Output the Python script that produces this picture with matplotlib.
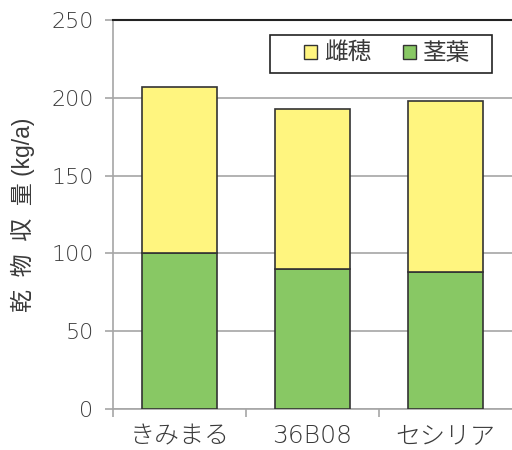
import matplotlib.pyplot as plt
import numpy as np
from matplotlib.patches import Patch, Rectangle

plt.rcParams['font.family'] = ['DejaVu Sans', 'Noto Sans CJK JP']

# data
varieties = ['きみまる', '36B08', 'セシリア']
stem_leaf = [100, 90, 88]      # 茎葉
ear = [107, 103, 110]          # 雌穂
yticks = [0, 50, 100, 150, 200, 250]

green = '#88c864'
yellow = '#fff57f'
edge = '#333333'
grey = '#a6a6a6'
text_c = '#3a3a3a'
jp = ['Liberation Sans', 'Noto Sans CJK JP']

fig = plt.figure(figsize=(5.12, 4.5), dpi=100)
ax = fig.add_axes([113 / 512, 41 / 450, 1 - 113 / 512, 389 / 450])

x = np.arange(len(varieties))
ax.bar(x, stem_leaf, width=0.56, color=green, edgecolor=edge, linewidth=1.2, zorder=3)
ax.bar(x, ear, width=0.56, bottom=stem_leaf, color=yellow, edgecolor=edge, linewidth=1.2, zorder=3)

ax.set_xlim(-0.5, 2.5)
ax.set_ylim(0, 250)
ax.set_yticks(yticks)
ax.set_yticklabels([str(v) for v in yticks], fontsize=16, color=text_c, fontweight='light')

# category labels centred, ticks between categories
ax.set_xticks(x)
ax.set_xticklabels(varieties, fontsize=18, color=text_c, fontweight='light')
ax.tick_params(axis='x', length=0, pad=11)
ax.set_xticks([-0.5, 0.5, 1.5], minor=True)
ax.tick_params(axis='x', which='minor', length=6, color=grey, width=1.2)
ax.tick_params(axis='y', length=6, color=grey, width=1.2, pad=8)

ax.yaxis.grid(True, color=grey, linewidth=1.2, zorder=0)
for s in ['left', 'bottom']:
    ax.spines[s].set_color(grey)
    ax.spines[s].set_linewidth(1.2)
ax.spines['right'].set_visible(False)
ax.spines['top'].set_color('#222222')
ax.spines['top'].set_linewidth(1.5)

ax.set_ylabel('乾  物  収  量 (kg/a)', fontsize=16.5, color=text_c, family=jp, labelpad=12)

# legend: frameless, with a box drawn around it
handles = [Patch(facecolor=yellow, edgecolor=edge, label='雌穂'),
           Patch(facecolor=green, edgecolor=edge, label='茎葉')]
leg = ax.legend(handles=handles, ncol=2, loc='center', bbox_to_anchor=(0.687, 0.912),
                prop={'family': jp, 'size': 17}, frameon=False, handlelength=0.55,
                handleheight=0.55, handletextpad=0.3, columnspacing=1.35, borderpad=0)
for t in leg.get_texts():
    t.set_color(text_c)
ax.add_patch(Rectangle((0.3935, 0.8638), 0.5565, 0.0976, transform=ax.transAxes,
                       facecolor='white', edgecolor='#222222', linewidth=1.2, zorder=4))
leg.set_zorder(5)

fig.savefig('out.png', dpi=100)
